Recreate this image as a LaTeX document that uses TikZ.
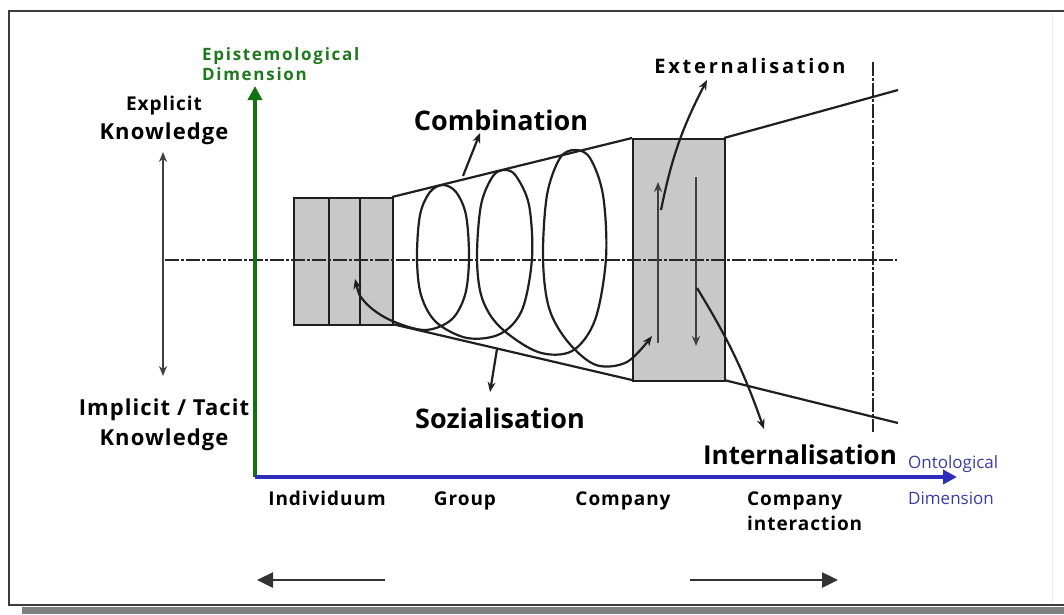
\documentclass[tikz,border=0pt]{standalone}
\usepackage{fontspec}
\setmainfont{Open Sans}
\newfontfamily\spfont{Open Sans}[LetterSpace=5]
\newfontfamily\spwfont{Open Sans}[LetterSpace=10]
\newfontfamily\spxfont{Open Sans}[LetterSpace=14]
\usetikzlibrary{arrows.meta}
\definecolor{epigreen}{RGB}{30,120,30}
\definecolor{axgreen}{RGB}{16,115,16}
\definecolor{axblue}{RGB}{45,45,185}
\definecolor{ontblue}{RGB}{60,60,165}
\definecolor{boxgray}{RGB}{200,200,200}
\definecolor{framegray}{RGB}{60,60,60}
\definecolor{shadowgray}{RGB}{128,128,128}
\tikzset{
  lbl/.style={inner sep=0pt, text=black},
  bigl/.style={lbl, font=\fontsize{27}{30}\selectfont\bfseries},
  knl/.style={lbl, font=\spfont\fontsize{22}{24}\selectfont\bfseries},
  axl/.style={lbl, font=\spfont\fontsize{19}{22}\selectfont\bfseries},
  greenl/.style={inner sep=0pt, text=epigreen, font=\spwfont\fontsize{17}{20}\selectfont\bfseries},
  bluel/.style={inner sep=0pt, text=ontblue, font=\fontsize{17}{20}\selectfont},
  ln/.style={line width=2.2pt, black!88},
  tip/.style={-{Stealth[length=10pt,width=8pt]}},
  dtip/.style={{Stealth[length=10pt,width=8pt]}-{Stealth[length=10pt,width=8pt]}},
  dashdot/.style={line width=2.2pt, black!85, dash pattern=on 14pt off 2pt on 3pt off 2pt},
  boxs/.style={fill=boxgray, draw=black!88, line width=2pt, inner sep=0pt, anchor=north west},
  bigarrow/.style={line width=2.5pt, black!80, -{Triangle[length=16pt,width=15pt]}}
}
\begin{document}
\begin{tikzpicture}[x=1pt,y=-1pt]
\useasboundingbox (0,0) rectangle (1064,614);
% frame
\fill[white] (9,11) rectangle (1064,605);
\fill[shadowgray] (22,607) rectangle (1064,614);
\draw[framegray, line width=2pt] (1064,11) -- (9,11) -- (9,605) -- (1064,605);
\draw[black!8, line width=1pt] (1052,14) -- (1052,603);

% coordinates
\coordinate (orig) at (255,477);
\coordinate (ytip) at (255,86);
\coordinate (xtip) at (957,477);
\coordinate (hl) at (165,260);
\coordinate (hr) at (897,260);
\coordinate (vt) at (873,62);
\coordinate (vb) at (873,432);
\coordinate (tl1) at (392,197);
\coordinate (tl2) at (632,138);
\coordinate (bl1) at (392,324);
\coordinate (bl2) at (632,380);
\coordinate (tr1) at (724,138);
\coordinate (tr2) at (898,90);
\coordinate (br1) at (724,380);
\coordinate (br2) at (898,423);

% boxes
\node[boxs, minimum width=35pt, minimum height=127pt] (b1) at (293,197) {};
\node[boxs, minimum width=31pt, minimum height=127pt] (b2) at (328,197) {};
\node[boxs, minimum width=33pt, minimum height=127pt] (b3) at (359,197) {};
\node[boxs, minimum width=92pt, minimum height=242pt] (rb) at (632,138) {};

% dash-dot lines
\draw[dashdot] (hl) -- (hr);
\draw[dashdot] (vt) -- (vb);

% trapezoid and outer lines
\draw[ln] (tl1) -- (tl2);
\draw[ln] (bl1) -- (bl2);
\draw[ln] (tr1) -- (tr2);
\draw[ln] (br1) -- (br2);

% spiral
\draw[ln, dtip] plot[smooth, tension=0.55] coordinates {
(355,279) (364,301) (388,319) (424,330) (451,320) (465,295) (469,258) (466,215) (456,192) (443,185) (430,192) (420,215) (417,258) (421,295) (436,322) (467,338) (500,334) (522,310) (532,258) (529,205) (516,176) (505,170) (493,176) (481,205) (477,258) (482,298) (500,327) (538,352) (572,351) (595,320) (606,258) (603,195) (590,158) (575,150) (560,158) (547,195) (543,258) (549,308) (568,342) (596,365) (627,362) (652,336)};

% vertical arrows in right box
\coordinate (lu0) at (658,343);
\coordinate (lu1) at (658,182);
\coordinate (rd0) at (696,177);
\coordinate (rd1) at (696,346);
\draw[line width=2pt, black!75, tip] (lu0) -- (lu1);
\draw[line width=2pt, black!75, tip] (rd0) -- (rd1);

% labels
\node[bigl, anchor=base] (comb) at (501,130) {Combination};
\node[bigl, anchor=base] (soz) at (500,428) {Sozialisation};
\node[lbl, font=\fontsize{26}{30}\selectfont\bfseries, anchor=base] (intl) at (800,464) {Internalisation};
\node[lbl, font=\spxfont\fontsize{20}{24}\selectfont\bfseries, anchor=base] (extl) at (750,73) {Externalisation};

% label arrows
\coordinate (ca) at (463,176);
\coordinate (cb) at (480,133);
\draw[ln, tip] (ca) -- (cb);
\coordinate (sa) at (497,349);
\coordinate (sb) at (490,392);
\draw[ln, tip] (sa) -- (sb);
\coordinate (ea) at (661,210);
\coordinate (eb) at (707,80);
\draw[ln, tip] (ea) to[bend left=8] (eb);
\coordinate (ia) at (697,288);
\coordinate (ib) at (764,429);
\draw[ln, tip] (ia) to[bend left=6] (ib);

% left knowledge arrow
\coordinate (ka) at (163,152);
\coordinate (kb) at (163,376);
\draw[line width=1.8pt, black!75, dtip] (ka) -- (kb);
\node[lbl, font=\spfont\fontsize{19}{22}\selectfont\bfseries, anchor=base] (expl) at (164,110) {Explicit};
\node[knl, anchor=base] (kn1) at (164,139) {Knowledge};
\node[lbl, font=\spfont\fontsize{22}{24}\selectfont\bfseries, anchor=base] (impl) at (164,415) {Implicit / Tacit};
\node[knl, anchor=base] (kn2) at (164,445) {Knowledge};

% axes
\draw[axgreen, line width=4pt, -{Triangle[length=14pt,width=14pt]}] (orig) -- (ytip);
\draw[axblue, line width=4pt, -{Triangle[length=14pt,width=14pt]}] (orig) -- (xtip);
\node[greenl, anchor=base west] (ep1) at (202,60) {Epistemological};
\node[greenl, anchor=base west] (ep2) at (202,80) {Dimension};
\node[bluel, anchor=base west] (on1) at (908,468) {Ontological};
\node[bluel, anchor=base west] (on2) at (908,504) {Dimension};

% axis categories
\node[axl, anchor=base] (ind) at (327,505) {Individuum};
\node[axl, anchor=base] (grp) at (465,505) {Group};
\node[axl, anchor=base] (cmp) at (623,505) {Company};
\node[axl, anchor=base west] (ci1) at (747,505) {Company};
\node[axl, anchor=base west] (ci2) at (747,530) {interaction};

% bottom arrows
\coordinate (la0) at (385,580);
\coordinate (la1) at (257,580);
\coordinate (ra0) at (690,580);
\coordinate (ra1) at (838,580);
\draw[bigarrow] (la0) -- (la1);
\draw[bigarrow] (ra0) -- (ra1);
\end{tikzpicture}
\end{document}
